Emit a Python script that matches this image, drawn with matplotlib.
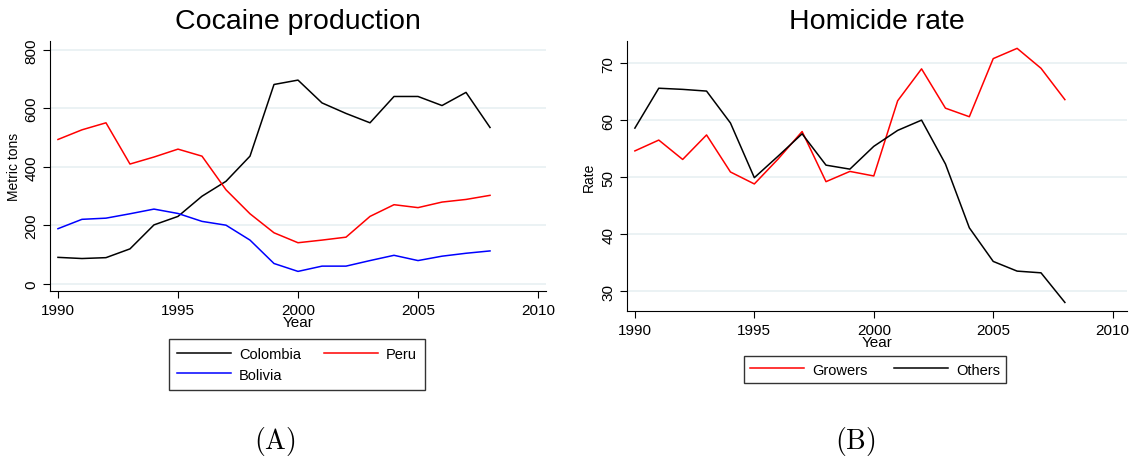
import matplotlib
matplotlib.use("Agg")
import matplotlib.pyplot as plt

plt.rcParams['font.family'] = ['Liberation Sans', 'DejaVu Sans']
plt.rcParams['mathtext.fontset'] = 'cm'

years = list(range(1990, 2009))

# Panel A: cocaine production (metric tons)
colombia = [91, 87, 90, 120, 202, 231, 300, 351, 437, 682, 697, 619, 583, 551, 641, 641, 610, 655, 535]
peru = [494, 527, 551, 410, 434, 461, 437, 322, 240, 175, 141, 150, 160, 231, 271, 261, 280, 289, 303]
bolivia = [189, 221, 225, 240, 256, 241, 214, 201, 150, 70, 43, 61, 61, 80, 98, 80, 95, 105, 113]

# Panel B: homicide rate
growers = [54.6, 56.5, 53.1, 57.4, 50.9, 48.8, 53.2, 58.0, 49.2, 51.0, 50.2, 63.4, 69.0, 62.1, 60.6, 70.8, 72.6, 69.1, 63.6]
others = [58.6, 65.6, 65.4, 65.1, 59.5, 49.9, 53.7, 57.6, 52.1, 51.4, 55.4, 58.2, 60.0, 52.3, 41.1, 35.2, 33.5, 33.2, 28.0]

xticks = [1990, 1995, 2000, 2005, 2010]
grid_col = '#e8f0f2'

fig = plt.figure(figsize=(11.4, 4.64), dpi=100)
ax1 = fig.add_axes([0.0439, 0.3707, 0.435, 0.539])
ax2 = fig.add_axes([0.550, 0.3276, 0.4386, 0.582])


def style(ax):
    for s in ['top', 'right']:
        ax.spines[s].set_visible(False)
    ax.set_xticks(xticks)
    ax.tick_params(labelsize=11, direction='out', length=5)
    for lab in ax.get_yticklabels():
        lab.set_rotation(90)
        lab.set_va('center')
    ax.yaxis.grid(True, color=grid_col, linewidth=1.2)
    ax.set_axisbelow(True)
    ax.set_xlabel('Year', fontsize=11, labelpad=-1)


lw = 1.1
ax1.plot(years, colombia, color='black', lw=lw, label='Colombia')
ax1.plot(years, bolivia, color='blue', lw=lw, label='Bolivia')
ax1.plot(years, peru, color='red', lw=lw, label='Peru')
ax1.set_xlim(1989.67, 2010.33)
ax1.set_ylim(-24, 831)
ax1.set_yticks([0, 200, 400, 600, 800])
style(ax1)
ax1.set_ylabel('Metric tons', fontsize=10, labelpad=2)
ax1.set_title('Cocaine production', fontsize=20.5, pad=9)
leg1 = ax1.legend(loc='upper center', bbox_to_anchor=(297 / 1140, 1 - 340 / 464),
                  bbox_transform=fig.transFigure, ncol=2, fontsize=10.5,
                  handlelength=3.7, handletextpad=0.55, columnspacing=1.6,
                  fancybox=False, edgecolor='black', borderpad=0.55,
                  labelspacing=0.45, borderaxespad=0)
leg1.get_frame().set_linewidth(1.0)

ax2.plot(years, growers, color='red', lw=lw, label='Growers')
ax2.plot(years, others, color='black', lw=lw, label='Others')
ax2.set_xlim(1989.67, 2010.6)
ax2.set_ylim(26.5, 73.9)
ax2.set_yticks([30, 40, 50, 60, 70])
style(ax2)
ax2.set_ylabel('Rate', fontsize=10, labelpad=4)
ax2.set_title('Homicide rate', fontsize=20.5, pad=9)
leg2 = ax2.legend(loc='upper center', bbox_to_anchor=(875 / 1140, 1 - 357 / 464),
                  bbox_transform=fig.transFigure, ncol=2, fontsize=10.5,
                  handlelength=3.7, handletextpad=0.55, columnspacing=1.8,
                  fancybox=False, edgecolor='black', borderpad=0.45,
                  borderaxespad=0)
leg2.get_frame().set_linewidth(1.0)

fig.text(275 / 1140, 1 - 442 / 464, r'$\mathrm{(A)}$', fontsize=20, ha='center', va='center')
fig.text(855 / 1140, 1 - 442 / 464, r'$\mathrm{(B)}$', fontsize=20, ha='center', va='center')

fig.savefig('out.png', dpi=100)
